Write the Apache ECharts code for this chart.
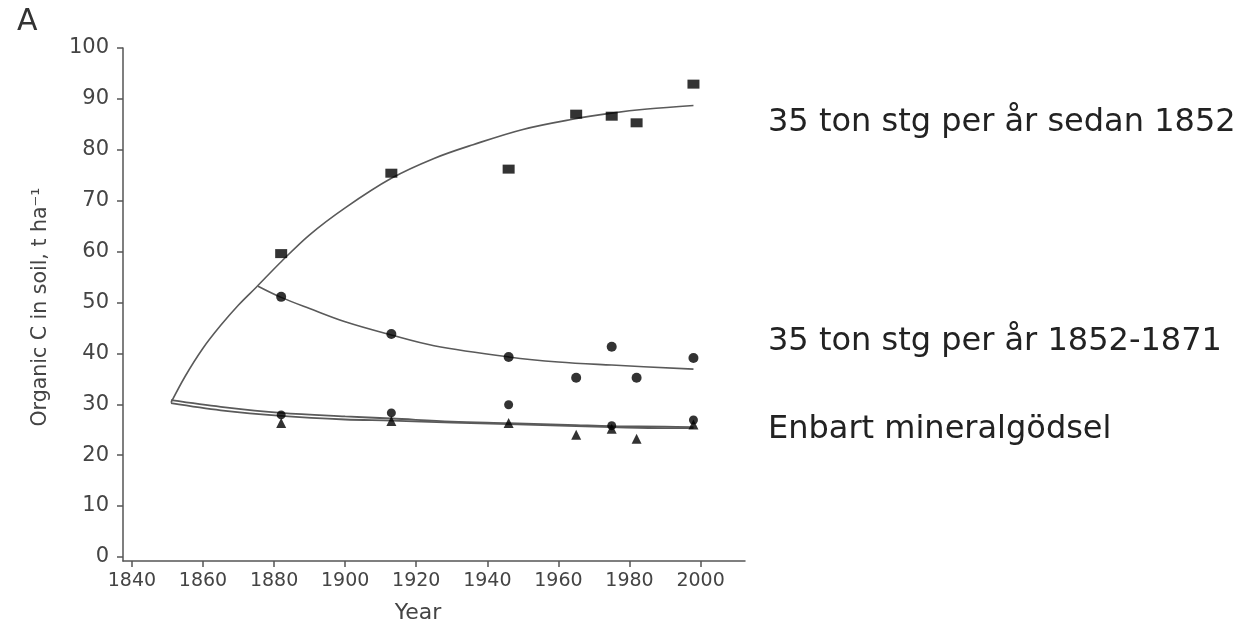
<!DOCTYPE html>
<html>
<head>
<meta charset="utf-8">
<script src="https://cdn.jsdelivr.net/npm/echarts@6/dist/echarts.min.js"></script>
<style>html,body{margin:0;padding:0;background:#fff;}#c{width:1241px;height:623px;}</style>
</head>
<body>
<div id="c"></div>
<script>
// Tick labels
var xTicks = [1840, 1860, 1880, 1900, 1920, 1940, 1960, 1980, 2000];
var yTicks = [0, 10, 20, 30, 40, 50, 60, 70, 80, 90, 100];

// Measured points: [year, organic C t/ha]
var manureSince1852 = [[1882, 59.6], [1913, 75.4], [1946, 76.2], [1965, 87.0], [1975, 86.6], [1982, 85.3], [1998, 92.9]];
var manure1852to1871 = [[1882, 51.1], [1913, 43.8], [1946, 39.3], [1965, 35.2], [1975, 41.3], [1982, 35.2], [1998, 39.1]];
var lowerCircles = [[1882, 27.9], [1913, 28.3], [1946, 29.9], [1975, 25.8], [1998, 26.9]];
var mineralOnly = [[1882, 26.3], [1913, 26.7], [1946, 26.3], [1965, 24.0], [1975, 25.2], [1982, 23.2], [1998, 26.0]];

// Fitted curves
var fitSince1852 = [[1851, 30.3], [1855, 35.5], [1860, 41], [1865, 45.5], [1870, 49.5], [1875, 53], [1882, 58], [1890, 63.3], [1900, 68.6], [1913, 74.4], [1925, 78.3], [1936, 81], [1950, 84], [1964, 86], [1975, 87.2], [1985, 88], [1998, 88.7]];
var fit1852to1871 = [[1875.5, 53.2], [1882, 51], [1890, 48.8], [1900, 46.2], [1913, 43.6], [1925, 41.5], [1946, 39.3], [1960, 38.3], [1975, 37.7], [1998, 36.9]];
var fitLowerA = [[1851, 30.8], [1865, 29.5], [1882, 28.3], [1900, 27.6], [1913, 27.2], [1930, 26.6], [1946, 26.3], [1965, 25.9], [1975, 25.7], [1990, 25.6], [1998, 25.5]];
var fitLowerB = [[1851, 30.2], [1865, 28.8], [1882, 27.7], [1900, 27.0], [1913, 26.8], [1930, 26.4], [1946, 26.1], [1965, 25.7], [1975, 25.5], [1990, 25.3], [1998, 25.3]];

var labels = ['35 ton stg per år sedan 1852', '35 ton stg per år 1852-1871', 'Enbart mineralgödsel'];

var chart = echarts.init(document.getElementById('c'), null, {renderer: 'canvas'});
var mk = '#000';
function fit(d, w) {
  return {type: 'line', data: d, smooth: 0.35, showSymbol: false, symbol: 'none',
    lineStyle: {color: '#5a5a5a', width: w || 1.6}, z: 2, silent: true, animation: false};
}
function pts(d, sym, size) {
  return {type: 'scatter', data: d, symbol: sym, symbolSize: size,
    itemStyle: {color: mk}, z: 3, silent: true, animation: false};
}
chart.setOption({
  animation: false,
  backgroundColor: '#fff',
  grid: {left: 123, right: 496, top: 48, bottom: 62, containLabel: false},
  xAxis: {
    type: 'value', min: 1837.5, max: 2012.5,
    axisLine: {show: true, onZero: false, lineStyle: {color: '#555', width: 1.5}},
    axisTick: {show: true, length: 6, inside: false, customValues: xTicks, lineStyle: {color: '#555', width: 1.5}},
    axisLabel: {customValues: xTicks, formatter: function (v) { return String(v); },
      fontFamily: 'DejaVu Sans', fontSize: 19, color: '#444', margin: 11},
    splitLine: {show: false}
  },
  yAxis: {
    type: 'value', min: -0.8, max: 100,
    axisLine: {show: true, onZero: false, lineStyle: {color: '#555', width: 1.5}},
    axisTick: {show: true, length: 6, inside: false, customValues: yTicks, lineStyle: {color: '#555', width: 1.5}},
    axisLabel: {customValues: yTicks, formatter: function (v) { return String(v); },
      fontFamily: 'DejaVu Sans', fontSize: 21, color: '#444', margin: 14},
    splitLine: {show: false}
  },
  series: [
    fit(fitSince1852),
    fit(fit1852to1871),
    fit(fitLowerA, 1.8),
    fit(fitLowerB, 1.8),
    pts(manureSince1852, 'rect', [12, 9]),
    pts(manure1852to1871, 'circle', 10),
    pts(lowerCircles, 'circle', 9),
    pts(mineralOnly, 'triangle', 10)
  ],
  graphic: [
    {type: 'text', left: 17, top: 7, style: {text: 'A', fontFamily: 'DejaVu Sans', fontSize: 30, fill: '#333'}},
    {type: 'text', x: 41, y: 307, rotation: Math.PI / 2,
      style: {text: 'Organic C in soil, t ha⁻¹', fontFamily: 'DejaVu Sans', fontSize: 20.5, fill: '#444', align: 'center', verticalAlign: 'middle'}},
    {type: 'text', x: 418, y: 613, style: {text: 'Year', fontFamily: 'DejaVu Sans', fontSize: 22, fill: '#444', align: 'center', verticalAlign: 'middle'}},
    {type: 'text', x: 768, y: 123, style: {text: labels[0], fontFamily: 'DejaVu Sans', fontSize: 32, fill: '#222', verticalAlign: 'middle'}},
    {type: 'text', x: 768, y: 342, style: {text: labels[1], fontFamily: 'DejaVu Sans', fontSize: 32, fill: '#222', verticalAlign: 'middle'}},
    {type: 'text', x: 768, y: 430, style: {text: labels[2], fontFamily: 'DejaVu Sans', fontSize: 32, fill: '#222', verticalAlign: 'middle'}}
  ]
});
</script>
</body>
</html>
